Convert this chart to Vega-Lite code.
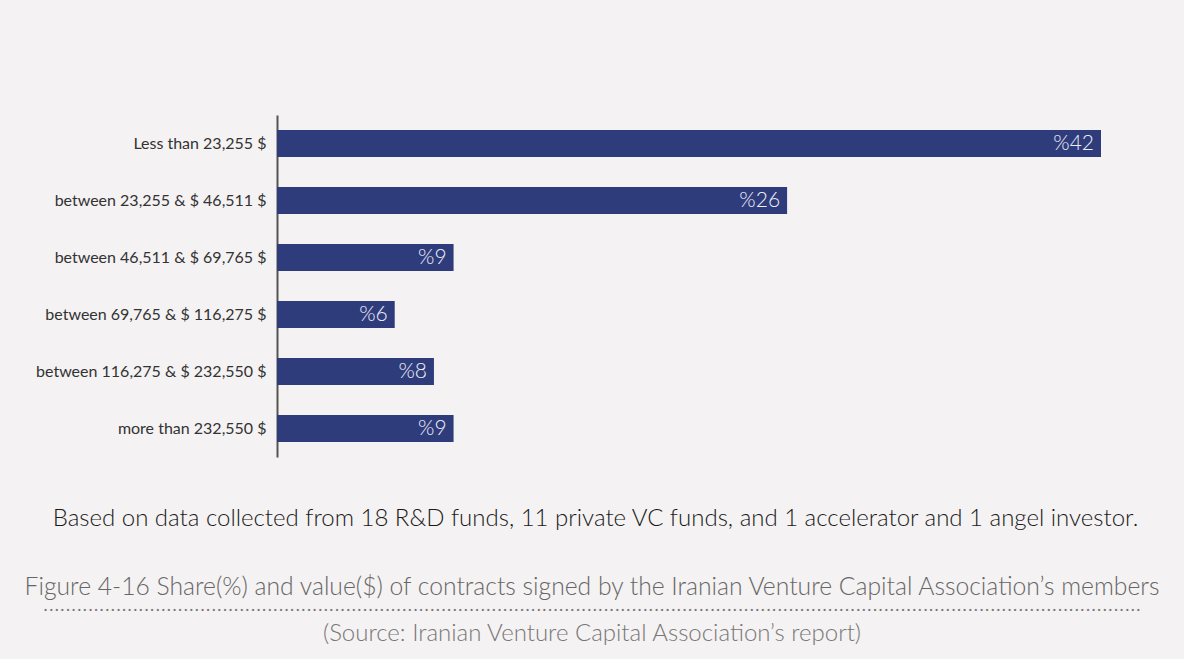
{
  "$schema": "https://vega.github.io/schema/vega-lite/v6.json",
  "width": 824,
  "height": 342,
  "autosize": {"type": "none"},
  "padding": {"left": 277, "top": 115, "right": 83, "bottom": 202},
  "background": "#f4f2f2",
  "config": {"view": {"stroke": null}},
  "data": {
    "values": [
      {"range": "Less than 23,255 $", "share": 42, "label": "%42"},
      {"range": "between 23,255 & $ 46,511 $", "share": 26, "label": "%26"},
      {"range": "between 46,511 & $ 69,765 $", "share": 9, "label": "%9"},
      {"range": "between 69,765 & $ 116,275 $", "share": 6, "label": "%6"},
      {"range": "between 116,275 & $ 232,550 $", "share": 8, "label": "%8"},
      {"range": "more than 232,550 $", "share": 9, "label": "%9"}
    ]
  },
  "encoding": {
    "y": {
      "field": "range",
      "type": "nominal",
      "sort": null,
      "scale": {"paddingInner": 0.526, "paddingOuter": 0.263},
      "axis": {
        "title": null,
        "domain": true,
        "domainColor": "#555555",
        "domainWidth": 2,
        "ticks": false,
        "labelFont": "Lato",
        "labelFontSize": 16,
        "labelColor": "#333333",
        "labelPadding": 11,
        "labelLimit": 300
      }
    },
    "x": {
      "field": "share",
      "type": "quantitative",
      "scale": {"domain": [0, 42], "nice": false, "zero": true},
      "axis": {
        "domain": false,
        "ticks": false,
        "labels": false,
        "grid": false,
        "title": "Based on data collected from 18 R&D funds, 11 private VC funds, and 1 accelerator and 1 angel investor.",
        "titleFont": "Lato",
        "titleFontSize": 24,
        "titleFontWeight": 300,
        "titleColor": "#1a1a1a",
        "titleAlign": "center",
        "titleBaseline": "middle",
        "titleX": 318,
        "titleY": 61
      }
    }
  },
  "layer": [
    {"mark": {"type": "bar", "color": "#2f3c7c"}},
    {
      "mark": {"type": "text", "align": "right", "dx": -7, "color": "#eeeef6", "fontSize": 21, "font": "Lato", "fontWeight": 300},
      "encoding": {"text": {"field": "label"}}
    }
  ],
  "title": {
    "text": "Figure 4-16 Share(%) and value($) of contracts signed by the Iranian Venture Capital Association’s members",
    "orient": "bottom",
    "anchor": "middle",
    "frame": "group",
    "dx": -97,
    "offset": 45,
    "font": "Lato",
    "fontSize": 24.7,
    "fontWeight": 300,
    "color": "#666666",
    "subtitle": ["....................................................................................................................................................................................................", "(Source: Iranian Venture Capital Association’s report)"],
    "subtitleFont": "Lato",
    "subtitleFontSize": 24,
    "subtitleFontWeight": 300,
    "subtitleColor": "#777777",
    "subtitlePadding": -8,
    "subtitleLineHeight": 30
  }
}
